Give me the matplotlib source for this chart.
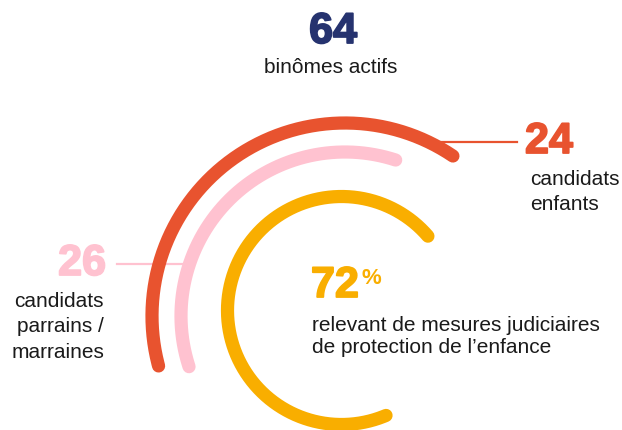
import numpy as np
import matplotlib.pyplot as plt
import matplotlib.patheffects as pe

# valeurs
total_binomes = 64
nb_enfants = 24
nb_parrains = 26
pct_judiciaire = 72

# arcs : angle de debut / fin (degres), rayon (px) et centre
arc_names = ['enfants', 'parrains', 'judiciaire']
arc_start = [56, 72, 40.7]
arc_end = [195, 198, 293]
arc_radius = [193, 164, 114]
arc_cx = [345, 345, 341.5]
arc_cy = [316, 316, 310.5]
arc_colors = ['#E8532F', '#FFC2D0', '#F9AE00']

navy = '#26336F'
txt = '#1a1a1a'

plt.rcParams['font.family'] = ['Liberation Sans', 'DejaVu Sans']

fig = plt.figure(figsize=(6.22, 4.30), dpi=100)
ax = fig.add_axes([0, 0, 1, 1])
ax.set_xlim(0, 622)
ax.set_ylim(430, 0)
ax.axis('off')


def big(x, y, s, color, ha):
    # chiffres en gras, un peu epaissis
    ax.text(x, y, s, color=color, fontsize=31, fontweight='bold', ha=ha, va='baseline',
            path_effects=[pe.withStroke(linewidth=1.3, foreground=color)])


def label(x, y, s, ha='left'):
    ax.text(x, y, s, color=txt, fontsize=15, ha=ha, va='baseline')


# traits de rappel (derriere les arcs)
ax.plot([437, 517], [142, 142], color=arc_colors[0], lw=1.6, zorder=1)
ax.plot([117, 183], [264, 264], color=arc_colors[1], lw=1.6, zorder=1)

for a0, a1, r, x0, y0, c in zip(arc_start, arc_end, arc_radius, arc_cx, arc_cy, arc_colors):
    t = np.radians(np.linspace(a0, a1, 200))
    ax.plot(x0 + r * np.cos(t), y0 - r * np.sin(t), color=c, lw=9.5,
            solid_capstyle='round', zorder=2)

# titre central
big(333, 43, str(total_binomes), navy, 'center')
label(331, 73, 'binômes actifs', ha='center')

# enfants
big(525, 153, str(nb_enfants), arc_colors[0], 'left')
label(530, 185, 'candidats')
label(530, 210, 'enfants')

# parrains
big(106, 275, str(nb_parrains), arc_colors[1], 'right')
label(104, 307, 'candidats', ha='right')
label(104, 332, 'parrains /', ha='right')
label(104, 358, 'marraines', ha='right')

# mesures judiciaires
big(311, 297, str(pct_judiciaire), arc_colors[2], 'left')
ax.text(362, 268, '%', color=arc_colors[2], fontsize=16, fontweight='bold',
        ha='left', va='top')
label(312, 331, 'relevant de mesures judiciaires')
label(312, 353, 'de protection de l\u2019enfance')

fig.savefig('out.png', dpi=100)
